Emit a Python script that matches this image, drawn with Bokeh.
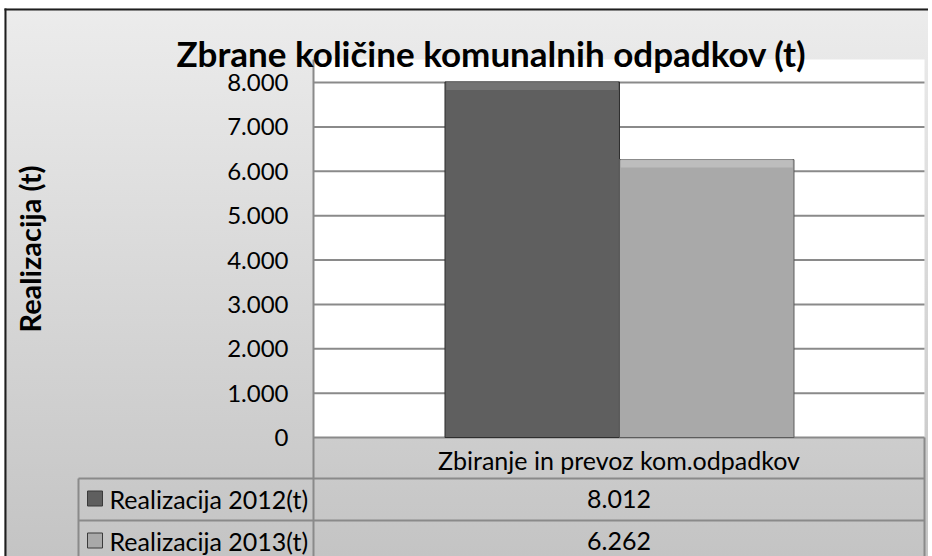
import math
from bokeh.plotting import figure
from bokeh.models import Range1d
from bokeh.core.properties import value
from bokeh.embed import file_html
from bokeh.resources import INLINE

# ---------------- data ----------------
title_text = "Zbrane količine komunalnih odpadkov (t)"
y_axis_title = "Realizacija (t)"
categories = ["Zbiranje in prevoz kom.odpadkov"]
series_names = ["Realizacija 2012(t)", "Realizacija 2013(t)"]
series_values = [8012, 6262]
value_labels = ["8.012", "6.262"]
y_ticks = [0, 1000, 2000, 3000, 4000, 5000, 6000, 7000, 8000]
y_tick_labels = ["0", "1.000", "2.000", "3.000", "4.000", "5.000", "6.000", "7.000", "8.000"]

# ---------------- style / layout ----------------
series_colors = ["#5f5f5f", "#a9a9a9"]
series_bevel = ["#7a7a7a", "#c4c4c4"]
series_lines = ["#2e2e2e", "#5c5c5c"]
grid_color = "#8a8a8a"
border_color = "#1e1e1e"
FONT = value("Lato")

W, H = 928, 556
CHART_L, CHART_T = 4, 8          # outer chart border (page px)
FRAME_L, FRAME_R = 313, 924      # plot area (page px)
FRAME_T, FRAME_B = 59, 437
TOP_TICK_PX = 82                 # page y of the highest tick
ROW_EDGES = [437, 478, 520, 562] # data-table row borders (page y)
TABLE_LEFT = 78
BAR_W = 0.2856                   # fraction of a category slot
BEVEL_PX = 8

px_per_unit = (FRAME_B - TOP_TICK_PX) / y_ticks[-1]


def sx(px):
    return (px - FRAME_L) / (FRAME_R - FRAME_L)


def sy(py):
    return (FRAME_B - py) / px_per_unit


p = figure(
    width=W, height=H,
    x_range=Range1d(sx(0), sx(W)), y_range=Range1d(sy(H), sy(0)),
    x_axis_type=None, y_axis_type=None,
    output_backend="svg", toolbar_location=None,
    min_border=0,
)
p.styles = {
    "background": "linear-gradient(#ececec, #c4c4c4) 4px 8px / 924px 548px no-repeat, white",
}
p.border_fill_alpha = 0
p.background_fill_alpha = 0
p.outline_line_color = None
p.grid.visible = False

# outer chart border (top and left edges visible)
p.segment(x0=[sx(CHART_L), sx(CHART_L + 1)], x1=[sx(W), sx(CHART_L + 1)],
          y0=[sy(CHART_T + 1), sy(CHART_T)], y1=[sy(CHART_T + 1), sy(H)],
          line_color=border_color, line_width=2)

n_cat = len(categories)
# plot area (white)
p.quad(left=[0], right=[n_cat], bottom=[0], top=[sy(FRAME_T)], fill_color="white", line_color=None)

# horizontal grid lines at the ticks
p.segment(x0=[0] * len(y_ticks), x1=[n_cat] * len(y_ticks), y0=y_ticks, y1=y_ticks,
          line_color=grid_color, line_width=2)

# bars
n = len(series_values)
bevel = BEVEL_PX / px_per_unit
for i in range(n):
    centers = [c + 0.5 + (i - (n - 1) / 2) * BAR_W + 0.0008 for c in range(n_cat)]
    p.vbar(x=centers, top=[series_values[i]], bottom=0, width=BAR_W,
           fill_color=series_colors[i], line_color=series_lines[i], line_width=1)
    p.vbar(x=centers, top=[series_values[i]], bottom=[series_values[i] - bevel],
           width=BAR_W * 0.985, fill_color=series_bevel[i], fill_alpha=0.75, line_color=None)

# vertical axis line (continues as a table border)
p.segment(x0=[0], x1=[0], y0=[sy(FRAME_T)], y1=[sy(H)], line_color=grid_color, line_width=2)

# tick labels
p.text(x=[sx(288)] * len(y_ticks), y=y_ticks, text=y_tick_labels,
       text_align="right", text_baseline="middle", text_font=FONT,
       text_font_size="24px", text_color="black")

# axis title
p.text(x=[sx(29)], y=[sy(248.5)], text=[y_axis_title], angle=math.pi / 2,
       text_align="center", text_baseline="middle", text_font=FONT,
       text_font_style="bold", text_font_size="29px", text_color="black")

# chart title
p.text(x=[sx(491)], y=[sy(52.5)], text=[title_text], text_align="center",
       text_baseline="middle", text_font=FONT, text_font_style="bold",
       text_font_size="35px", text_color="black")

# ---------------- data table ----------------
# horizontal borders
p.segment(x0=[sx(TABLE_LEFT)] * 2, x1=[n_cat] * 2,
          y0=[sy(ROW_EDGES[1]), sy(ROW_EDGES[2])], y1=[sy(ROW_EDGES[1]), sy(ROW_EDGES[2])],
          line_color=grid_color, line_width=2)
# vertical borders
p.segment(x0=[sx(TABLE_LEFT), n_cat], x1=[sx(TABLE_LEFT), n_cat],
          y0=[sy(ROW_EDGES[1]), 0], y1=[sy(H), sy(H)],
          line_color=grid_color, line_width=2)

# category header
p.text(x=[c + 0.5 for c in range(n_cat)], y=[sy(459)] * n_cat, text=categories,
       text_align="center", text_baseline="middle", text_font=FONT,
       text_font_size="25px", text_color="black")

row_mid = [sy(ROW_EDGES[i + 1] + 20) for i in range(n)]
p.rect(x=[sx(94.5)] * n, y=row_mid, width=15, height=15, width_units="screen",
       height_units="screen", fill_color=series_colors, line_color="#3a3a3a", line_width=1)
p.text(x=[sx(109)] * n, y=row_mid, text=series_names, text_align="left",
       text_baseline="middle", text_font=FONT, text_font_size="25px", text_color="black")
p.text(x=[0.5] * n, y=row_mid, text=value_labels, text_align="center",
       text_baseline="middle", text_font=FONT, text_font_size="25px", text_color="black")

open("out.html", "w").write(file_html(p, INLINE))
